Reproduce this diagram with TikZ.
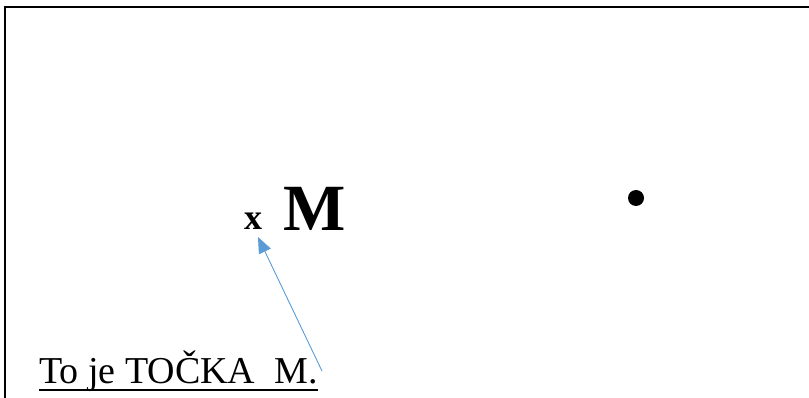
\documentclass[tikz,border=0pt]{standalone}
\usepackage{fontspec}
\setmainfont{Liberation Serif}
\usetikzlibrary{arrows.meta}
\definecolor{arrowblue}{RGB}{91,155,213}
\tikzset{
  frame/.style={line width=2.2pt, black},
  lbl/.style={inner sep=0pt, anchor=base west},
  ptr/.style={draw=arrowblue, line width=0.9pt, -{Triangle[length=16pt,width=13pt]}, fill=none},
}
\begin{document}
\begin{tikzpicture}[x=1pt,y=-1pt]
\useasboundingbox (0,0) rectangle (809,398);
\draw[frame] (5,400) -- (5,7) -- (812,7);
\node[lbl, font=\fontsize{36}{40}\selectfont\bfseries] (x) at (244,230) {x};
\node[lbl, font=\fontsize{66}{70}\selectfont\bfseries] (M) at (283,231) {M};
\fill (636,198) circle (8) coordinate (dot);
\node[lbl, font=\fontsize{38}{42}\selectfont] (txt) at (39,383) {To je TOČKA\ \ M.};
\draw[line width=2pt] ([yshift=-7pt]txt.base west) -- ([yshift=-7pt]txt.base east);
\coordinate (s) at (322,371);
\coordinate (e) at (258,237);
\draw[ptr] (s) -- (e);
\end{tikzpicture}
\end{document}
